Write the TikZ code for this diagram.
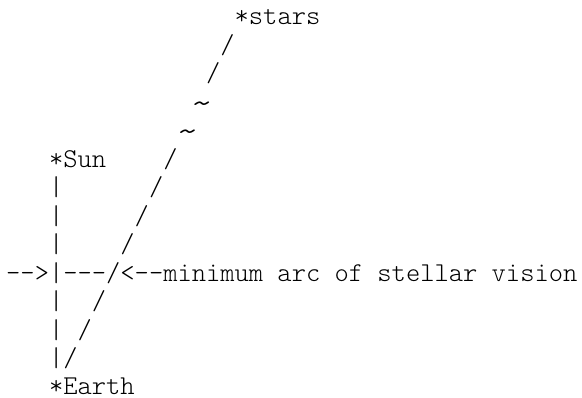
\documentclass[tikz,border=0pt]{standalone}
\newcommand{\hy}{\mbox{-}}
\newcommand{\haze}{\raisebox{-4pt}{\makebox[0pt][l]{\hspace{-2pt}\scalebox{1.6}[1.3]{\textasciitilde}}}}
\tikzset{
  ascii/.style={font=\ttfamily\fontseries{l}\fontsize{27.2}{28}\selectfont, inner sep=0pt, anchor=base west},
}
\begin{document}
\begin{tikzpicture}[x=14.28pt, y=-28.46pt]
\useasboundingbox (-6pt,25pt) rectangle (576pt,-373pt);
% end points
\node[ascii] (stars) at (16,0) {*stars};
\node[ascii] (sun) at (3,5) {*Sun};
\node[ascii] (earth) at (3,13) {*Earth};
% line of sight, earth to stars
\foreach \c/\r in {15/1,14/2,11/5,10/6,9/7,8/8,7/9,6/10,5/11,4/12}
  \node[ascii] (sight\r) at (\c,\r) {/};
\node[ascii] (haze3) at (13,3) {\haze};
\node[ascii] (haze4) at (12,4) {\haze};
% sun to earth
\foreach \r in {6,...,12}
  \node[ascii] (bar\r) at (3,\r) {|};
% the arc
\node[ascii] (arcin) at (0,9) {\hy\hy>};
\node[ascii] (arc) at (4,9) {\hy\hy\hy};
\node[ascii] (label) at (8,9) {<\hy\hy minimum arc of stellar vision};
\end{tikzpicture}
\end{document}
